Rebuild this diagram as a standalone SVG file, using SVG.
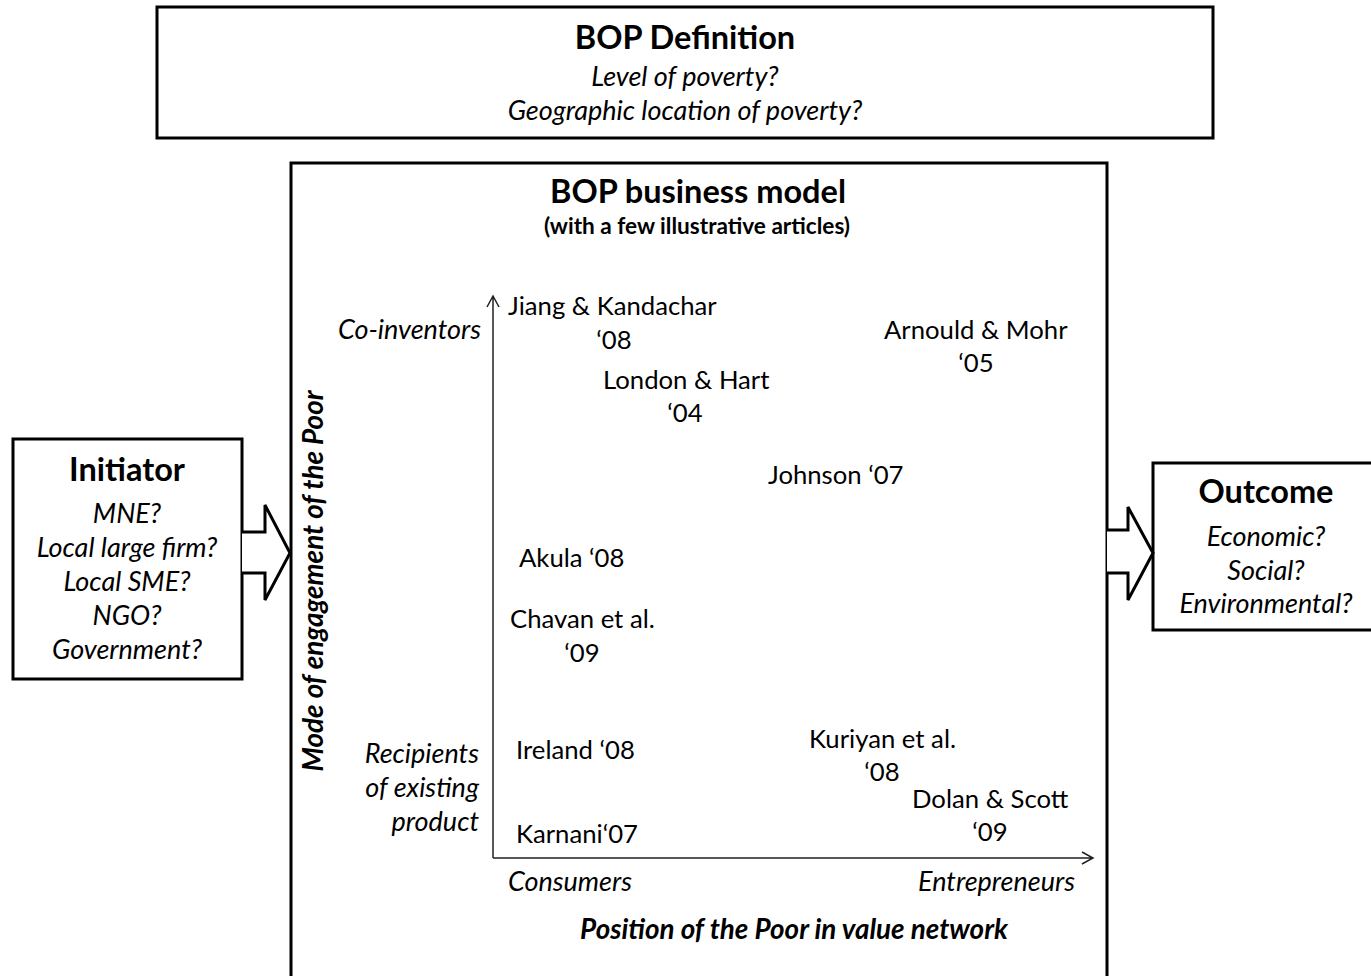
<svg xmlns="http://www.w3.org/2000/svg" width="1371" height="976" viewBox="0 0 1371 976">
<defs>
<style>
.box{fill:#fff;stroke:#000;stroke-width:3}
.t{font-family:Lato,"Open Sans",sans-serif;fill:#000}
.h{font-weight:bold;font-size:32.5px;text-anchor:middle}
.i{font-style:italic;font-size:27px}
.r{font-size:25.7px}
.c{text-anchor:middle}
.e{text-anchor:end}
.ax{fill:none;stroke:#222;stroke-width:1.5}
.blk{fill:#fff;stroke:#000;stroke-width:3;stroke-linejoin:miter}
</style>
</defs>
<rect width="1371" height="976" fill="#fff"/>
<g id="definition">
<rect class="box" x="157" y="7" width="1056" height="131"/>
<text class="t h" x="685" y="49">BOP Definition</text>
<text class="t i c" x="685" y="86">Level of poverty?</text>
<text class="t i c" x="685" y="120">Geographic location of poverty?</text>
</g>
<g id="model">
<rect class="box" x="291" y="163" width="816" height="830"/>
<text class="t h" x="698" y="203">BOP business model</text>
<text class="t c" x="697" y="234" font-weight="bold" font-size="22.6">(with a few illustrative articles)</text>
<text class="t i e" x="481" y="339">Co-inventors</text>
<text class="t i e" x="479" y="763">Recipients</text>
<text class="t i e" x="479" y="797">of existing</text>
<text class="t i e" x="479" y="831">product</text>
<text class="t i" x="508" y="891">Consumers</text>
<text class="t i e" x="1075" y="891">Entrepreneurs</text>
<text class="t c" x="794" y="939" font-weight="bold" font-style="italic" font-size="27.8">Position of the Poor in value network</text>
<text class="t c" transform="translate(323,581) rotate(-90)" font-weight="bold" font-style="italic" font-size="27.8">Mode of engagement  of the Poor</text>
<text class="t r" x="508" y="315">Jiang &amp; Kandachar</text>
<text class="t r c" x="614" y="349">‘08</text>
<text class="t r" x="884" y="339">Arnould &amp; Mohr</text>
<text class="t r c" x="976" y="372">‘05</text>
<text class="t r" x="603" y="389">London &amp; Hart</text>
<text class="t r c" x="685" y="422">‘04</text>
<text class="t r" x="768" y="484">Johnson ‘07</text>
<text class="t r" x="519" y="567">Akula ‘08</text>
<text class="t r" x="510" y="628">Chavan et al.</text>
<text class="t r c" x="582" y="662">‘09</text>
<text class="t r" x="516" y="759">Ireland ‘08</text>
<text class="t r" x="809" y="748">Kuriyan et al.</text>
<text class="t r c" x="882" y="781">‘08</text>
<text class="t r" x="912" y="808">Dolan &amp; Scott</text>
<text class="t r c" x="990" y="841">‘09</text>
<text class="t r" x="516" y="843">Karnani‘07</text>
</g>
<g id="axes">
<path class="ax" d="M493,858 V296 M487,307 L493,296 L499,307"/>
<path class="ax" d="M493,858 H1093 M1082,852 L1093,858 L1082,864"/>
</g>
<g id="initiator">
<rect class="box" x="13" y="439" width="229" height="240"/>
<text class="t h" x="127" y="481">Initiator</text>
<text class="t i c" x="127" y="523">MNE?</text>
<text class="t i c" x="127" y="557">Local large firm?</text>
<text class="t i c" x="127" y="591">Local SME?</text>
<text class="t i c" x="127" y="625">NGO?</text>
<text class="t i c" x="127" y="659">Government?</text>
</g>
<g id="outcome">
<rect class="box" x="1153" y="463" width="221" height="167"/>
<text class="t h" x="1266" y="503">Outcome</text>
<text class="t i c" x="1266" y="546">Economic?</text>
<text class="t i c" x="1266" y="580">Social?</text>
<text class="t i c" x="1266" y="613">Environmental?</text>
</g>
<g id="connectors">
<path class="blk" d="M242,532 H265 V505 L290,553 L265,600 V573 H242"/>
<path class="blk" d="M1107,530 H1128 V507 L1153,553 L1128,600 V573 H1107"/>
</g>
</svg>
